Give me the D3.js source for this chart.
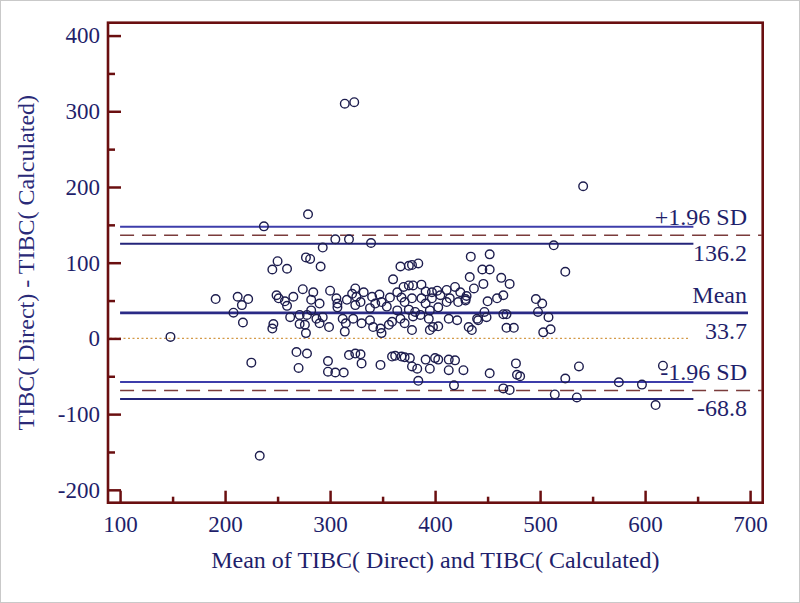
<!DOCTYPE html>
<html><head><meta charset="utf-8">
<script src="https://cdn.jsdelivr.net/npm/d3@7"></script>
<style>body{margin:0;background:#fff}svg{display:block}</style>
</head><body><svg id="chart" width="800" height="603"></svg>
<script>
// ---- data ----
const xTicks = [100, 200, 300, 400, 500, 600, 700];
const xMinorTicks = [150, 250, 350, 450, 550, 650];
const yTicks = [-200, -100, 0, 100, 200, 300, 400];
const yMinorTicks = [-150, -50, 50, 150, 250, 350];
const meanDiff = 33.7;
const upperLoA = 136.2;
const lowerLoA = -68.8;
const upperLoACI = [147.4, 125.0];
const lowerLoACI = [-57.6, -80.0];
const refLabels = ["+1.96 SD", "Mean", "-1.96 SD"];
const refValues = ["136.2", "33.7", "-68.8"];
const xTitle = "Mean of TIBC( Direct) and TIBC( Calculated)";
const yTitle = "TIBC( Direct) - TIBC( Calculated)";
// [mean, difference]
const points = [
 [148,2],[191,52],[208,34],[212,55],[216,44],[217,21],[222,52],[225,-32],[233,-155],[237,148],
 [245,91],[250,102],[249,57],[251,53],[246,19],[245,13],[257,49],[259,43],[259,92],
 [262,28],[265,55],[268,-18],[270,-39],[271,31],[271,19],[274,65],[276,18],[277,7],[277,107],[278,31],[278,-20],[279,164],
 [281,105],[282,51],[282,37],[284,61],[287,26],[290,20],[290,46],[291,95],[293,120],[293,28],[298,-30],[298,-44],[300,63],[299,15],
 [305,131],[305,-45],[306,53],[307,46],[307,41],[312,26],[313,-45],[314,9],[315,20],[318,131],[318,-22],[314,310],[323,312],[316,51],
 [339,126],[360,78],[367,95],[375,96],[378,97],[384,99],[433,81],[434,108],[445,91],[452,91],[446,72],[452,111],[463,80],[471,72],
 [324,66],[332,61],[321,59],[325,55],[340,55],[347,58],[357,54],[364,61],[370,68],[375,70],[379,70],[387,71],[391,62],[397,61],
 [402,63],[405,57],[411,64],[419,68],[424,61],[430,56],[437,66],[387,53],[368,54],[397,53],[414,53],[429,52],[378,53],
 [324,44],[329,48],[338,40],[343,46],[349,48],[354,42],[364,37],[371,48],[375,38],[381,35],[391,46],[395,37],[403,41],[411,48],[422,48],[429,50],
 [322,26],[330,20],[338,24],[341,15],[348,13],[349,7],[356,18],[359,22],[367,26],[371,20],[378,11],[379,29],[386,31],[394,26],
 [395,11],[398,15],[403,16],[413,26],[421,24],[432,15],[435,11],[440,26],[441,24],
 [324,-20],[329,-21],[330,-33],[348,-35],[359,-24],[362,-23],[368,-24],[371,-25],[376,-26],[378,-37],[383,-40],[391,-28],
 [395,-40],[400,-26],[403,-28],[413,-28],[413,-42],[419,-29],[427,-42],[384,-56],[418,-62],
 [541,201],[513,123],[524,88],[465,57],[459,53],[450,49],[447,35],[449,28],[465,32],[468,32],[496,52],[502,46],[498,35],[508,28],
 [468,14],[475,14],[503,8],[510,12],
 [452,-46],[477,-33],[478,-48],[481,-50],[465,-66],[471,-68],[514,-74],[524,-53],[535,-78],[537,-37],[575,-58],[597,-61],[610,-88],[617,-36]
];
const xDomain = [88.5, 712];
const yDomain = [-217, 417];
const lineStart = 100, limitLineEnd = 646, meanLineEnd = 698, zeroLineEnd = 643;

// ---- chart ----
const svg = d3.select("#chart");
const L = 108, R = 762.7, T = 22.7, B = 502.7;
const x = d3.scaleLinear().domain(xDomain).range([L, R]);
const y = d3.scaleLinear().domain(yDomain).range([B, T]);
const axisColor = "#6a0f10", textColor = "#1f1f6b";
const font = "'Liberation Serif','Times New Roman',serif";
const fmt = d => String(d);

svg.append("rect").attr("x",0.5).attr("y",0.5).attr("width",799).attr("height",602)
  .attr("fill","#fff").attr("stroke","#c9c9c9");

// reference lines
const g = svg.append("g");
g.append("line").attr("x1", x(xDomain[0])+2).attr("x2", x(zeroLineEnd))
  .attr("y1", y(0)).attr("y2", y(0))
  .attr("stroke","#d49a48").attr("stroke-width",1.3).attr("stroke-dasharray","2,2.5");
function hline(v, x0, x1, color, w, dash){
  g.append("line").attr("x1", x(x0)).attr("x2", x1).attr("y1", y(v)).attr("y2", y(v))
   .attr("stroke", color).attr("stroke-width", w).attr("stroke-dasharray", dash || null);
}
hline(upperLoACI[0], lineStart, x(limitLineEnd), "#3d3daa", 2);
hline(upperLoACI[1], lineStart, x(limitLineEnd), "#24247a", 2.2);
hline(lowerLoACI[0], lineStart, x(limitLineEnd), "#3d3daa", 2);
hline(lowerLoACI[1], lineStart, x(limitLineEnd), "#24247a", 2.2);
hline(upperLoA, lineStart, R - 1, "#7a3b3b", 1.5, "14,8");
hline(lowerLoA, lineStart, R - 1, "#7a3b3b", 1.5, "14,8");
hline(meanDiff, lineStart, x(meanLineEnd), "#2a2a86", 2.6);

// points
svg.append("g").selectAll("circle").data(points).join("circle")
  .attr("cx", d => x(d[0])).attr("cy", d => y(d[1])).attr("r", 4.3)
  .attr("fill","none").attr("stroke","#1d1d4e").attr("stroke-width",1.4);

// right labels
const rl = svg.append("g").attr("font-family", font).attr("font-size", 24)
  .attr("fill", textColor).attr("text-anchor","end");
const levels = [upperLoA, meanDiff, lowerLoA];
levels.forEach((v,i)=>{
  rl.append("text").attr("x", 747).attr("y", y(v) - 10).text(refLabels[i]);
  rl.append("text").attr("x", 747).attr("y", y(v) + 26).text(refValues[i]);
});

// axes
function styleAxis(sel){
  sel.select(".domain").remove();
  sel.selectAll("line").attr("stroke", axisColor).attr("stroke-width", 2.5);
  sel.selectAll("text").attr("fill", textColor).attr("font-family", font).attr("font-size", 23);
}
svg.append("g").attr("transform",`translate(${L},0)`)
  .call(d3.axisLeft(y).tickValues(yTicks).tickSizeInner(-13).tickSizeOuter(0).tickPadding(8).tickFormat(fmt))
  .call(styleAxis);
svg.append("g").attr("transform",`translate(${L},0)`)
  .call(d3.axisLeft(y).tickValues(yMinorTicks).tickSizeInner(-7).tickSizeOuter(0).tickFormat(""))
  .call(styleAxis);
svg.append("g").attr("transform",`translate(0,${B})`)
  .call(d3.axisBottom(x).tickValues(xTicks).tickSizeInner(-12).tickSizeOuter(0).tickPadding(13).tickFormat(fmt))
  .call(styleAxis);
svg.append("g").attr("transform",`translate(0,${B})`)
  .call(d3.axisBottom(x).tickValues(xMinorTicks).tickSizeInner(-6).tickSizeOuter(0).tickFormat(""))
  .call(styleAxis);

// frame
svg.append("rect").attr("x", L).attr("y", T).attr("width", R-L).attr("height", B-T)
  .attr("fill","none").attr("stroke", axisColor).attr("stroke-width", 2.6);

// titles
svg.append("text").attr("x", (L+R)/2).attr("y", 568).attr("text-anchor","middle")
  .attr("font-family", font).attr("font-size", 24).attr("fill", textColor).text(xTitle);
svg.append("text").attr("transform", `translate(34,${(T+B)/2}) rotate(-90)`).attr("text-anchor","middle")
  .attr("font-family", font).attr("font-size", 24).attr("fill", "#2a2a78").text(yTitle);
</script></body></html>
